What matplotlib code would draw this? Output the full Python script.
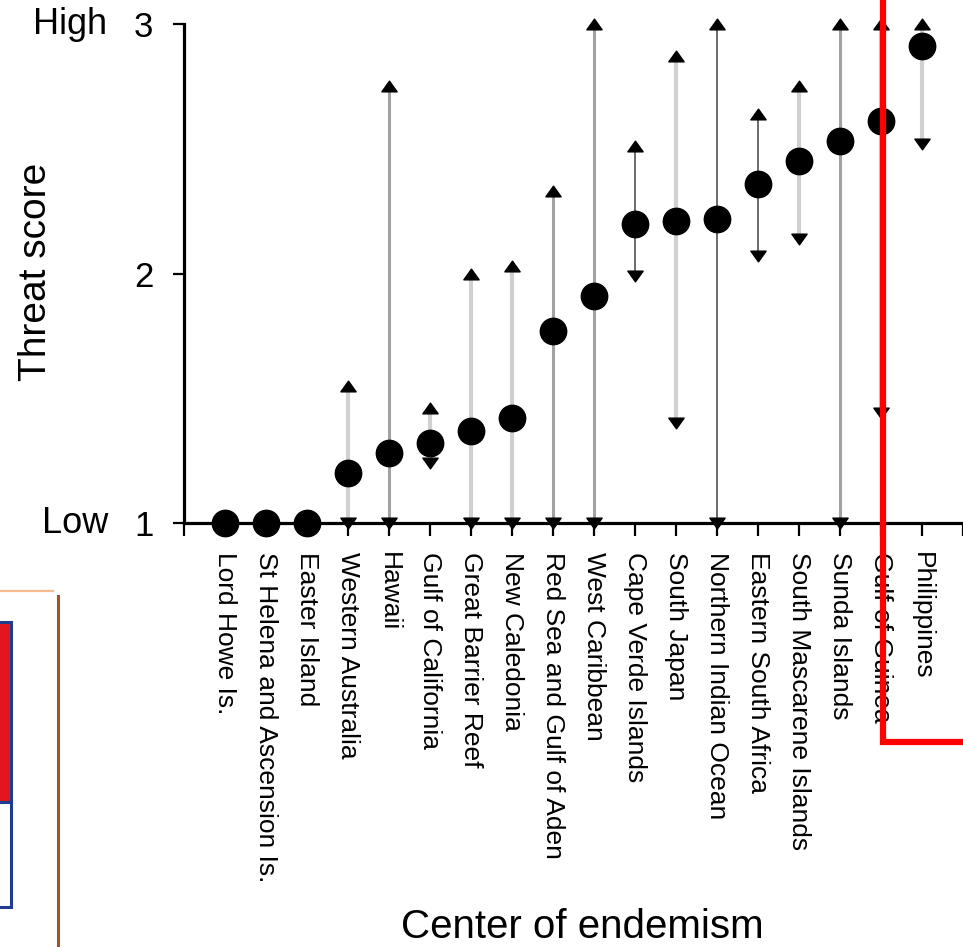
import matplotlib

matplotlib.use('Agg')  # Use a non-GUI backend
import matplotlib.pyplot as plt
import numpy as np
from matplotlib.lines import Line2D
from matplotlib.patches import Rectangle
from matplotlib.path import Path
from matplotlib.transforms import blended_transform_factory

plt.rcParams['font.family'] = ['Liberation Sans', 'DejaVu Sans']

# Centres of endemism, ordered by mean threat score
centres = ["Lord Howe Is.", "St Helena and Ascension Is.", "Easter Island",
           "Western Australia", "Hawaii", "Gulf of California",
           "Great Barrier Reef", "New Caledonia", "Red Sea and Gulf of Aden",
           "West Caribbean", "Cape Verde Islands", "South Japan",
           "Northern Indian Ocean", "Eastern South Africa",
           "South Mascarene Islands", "Sunda Islands", "Gulf of Guinea",
           "Philippines"]
score = [1.0, 1.0, 1.0, 1.20, 1.28, 1.32, 1.37, 1.42, 1.77, 1.91,
         2.20, 2.21, 2.22, 2.36, 2.45, 2.53, 2.61, 2.91]
score_min = [np.nan, np.nan, np.nan, 1.0, 1.0, 1.24, 1.0, 1.0, 1.0, 1.0,
             1.99, 1.40, 1.0, 2.07, 2.14, 1.0, 1.44, 2.52]
score_max = [np.nan, np.nan, np.nan, 1.55, 2.75, 1.46, 2.00, 2.03, 2.33, 3.0,
             2.51, 2.87, 3.0, 2.64, 2.75, 3.0, 3.0, 3.0]

# range line shade for each centre
shade = ["light", "light", "light", "light", "mid", "light", "light", "light",
         "mid", "mid", "dark", "light", "dark", "dark", "light", "mid",
         "light", "light"]
shade_style = {"dark": ("#6a6a6a", 1.4), "mid": ("#a2a2a2", 2.2),
               "light": ("#d0d0d0", 3.0)}

W, H = 963, 947
fig = plt.figure(figsize=(W / 100, H / 100), dpi=100)
ax = fig.add_axes([184 / W, 1 - 523 / H, 1 - 184 / W, (523 - 24) / H])

x = np.arange(1, len(centres) + 1)

# wide flat triangles for the range ends
tri_up = Path([(-1, -0.7), (1, -0.7), (0, 0.7), (-1, -0.7)],
              [Path.MOVETO, Path.LINETO, Path.LINETO, Path.CLOSEPOLY])
tri_down = Path([(-1, 0.7), (1, 0.7), (0, -0.7), (-1, 0.7)],
                [Path.MOVETO, Path.LINETO, Path.LINETO, Path.CLOSEPOLY])

for xi, lo, hi, sh in zip(x, score_min, score_max, shade):
    if np.isnan(lo):
        continue
    col, lw = shade_style[sh]
    ax.vlines(xi, lo, hi, colors=col, linewidth=lw, zorder=2, clip_on=False)
    ax.plot(xi, hi, marker=tri_up, ms=11, color='black', ls='none',
            zorder=3, clip_on=False)
    ax.plot(xi, lo, marker=tri_down, ms=11, color='black', ls='none',
            zorder=3, clip_on=False)

ax.plot(x, score, 'o', ms=19, color='black', ls='none', zorder=4,
        clip_on=False)

ax.set_xlim(0, 19)
ax.set_ylim(1, 3)
ax.set_xticks(np.arange(0, 20))
ax.set_xticklabels([""] + centres + [""], rotation=-90, fontsize=19)
ax.set_yticks([1, 2, 3])
ax.set_yticklabels(["1", "2", "3"], fontsize=25)
ax.tick_params(axis='x', direction='out', length=9, width=1.6, pad=12)
ax.tick_params(axis='y', direction='out', length=8, width=1.6, pad=14)

for side in ['top', 'right']:
    ax.spines[side].set_visible(False)
for side in ['left', 'bottom']:
    ax.spines[side].set_linewidth(2.3)

lab = blended_transform_factory(fig.transFigure, ax.transData)
ax.text(107 / W, 3, "High", transform=lab, ha='right', va='center', fontsize=26)
ax.text(108 / W, 1, "Low", transform=lab, ha='right', va='center', fontsize=26)

fig.text(36 / W, 1 - 272 / H, "Threat score", rotation=90, ha='center',
         va='center', fontsize=28)
fig.text(582 / W, 1 - 927 / H, "Center of endemism", ha='center',
         va='center', fontsize=29)

# red highlight frame over the right-hand columns
fig.add_artist(Line2D([883 / W, 883 / W, 1.0],
                      [1.0, 1 - 742 / H, 1 - 742 / H],
                      color='#ff0000', linewidth=4.5, zorder=10,
                      solid_joinstyle='miter'))

# inset panel edge in the lower left corner
fig.add_artist(Line2D([0, 53 / W], [1 - 591 / H, 1 - 591 / H],
                      color='#f8bb90', linewidth=1.6))
fig.add_artist(Line2D([58 / W, 58 / W], [1 - 596 / H, 0],
                      color='#a0522d', linewidth=2.2))
fig.add_artist(Rectangle((-5 / W, 1 - 802 / H), 16 / W, 180 / H,
                         transform=fig.transFigure, facecolor='#e3161e',
                         edgecolor='#1f3d8c', linewidth=2.2))
fig.add_artist(Rectangle((-5 / W, 1 - 907 / H), 16 / W, 105 / H,
                         transform=fig.transFigure, facecolor='white',
                         edgecolor='#1f3d8c', linewidth=2.2))

fig.savefig("out.png", dpi=100)
plt.close(fig)
